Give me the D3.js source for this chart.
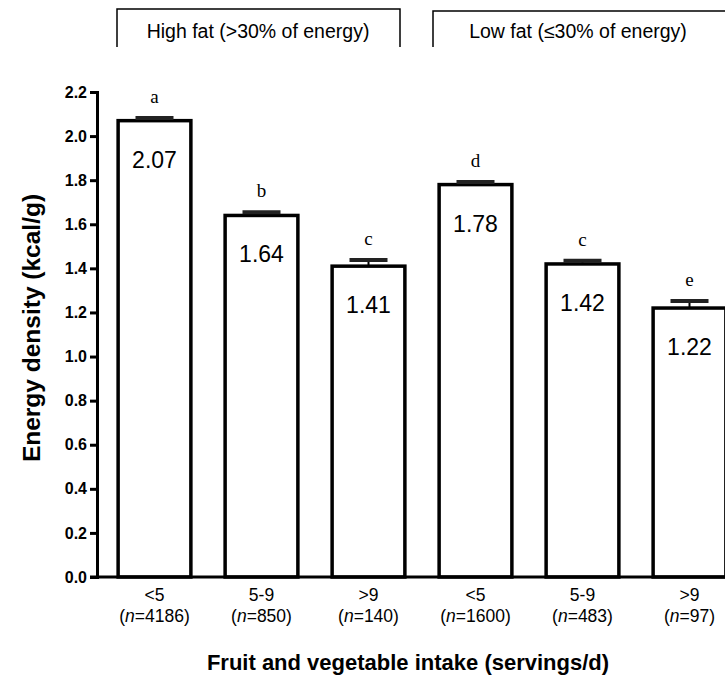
<!DOCTYPE html>
<html><head><meta charset="utf-8">
<script src="https://cdn.jsdelivr.net/npm/d3@7"></script>
<style>body{margin:0;background:#fff}svg{display:block}</style>
</head><body>
<script>
const categories = ["<5", "5-9", ">9", "<5", "5-9", ">9"];
const nLabels = ["4186", "850", "140", "1600", "483", "97"];
const values = [2.07, 1.64, 1.41, 1.78, 1.42, 1.22];
const errors = [0.012, 0.015, 0.028, 0.012, 0.014, 0.032];
const letters = ["a", "b", "c", "d", "c", "e"];
const groups = ["High fat (>30% of energy)", "Low fat (\u226430% of energy)"];
const yTicks = [0, 0.2, 0.4, 0.6, 0.8, 1.0, 1.2, 1.4, 1.6, 1.8, 2.0, 2.2];

const W = 725, H = 680;
const svg = d3.select("body").append("svg").attr("width", W).attr("height", H);
const idx = d3.range(values.length);
const x = d3.scaleBand().domain(idx).range([101, 743]).paddingInner(0.32).paddingOuter(0.16);
const y = d3.scaleLinear().domain([0, 2.2]).range([577, 92]);
const font = "'Liberation Sans', Arial, sans-serif";

// y axis
const yAxis = svg.append("g").attr("transform", "translate(97,0)")
  .call(d3.axisLeft(y).tickValues(yTicks).tickFormat(d3.format(".1f")).tickSize(7).tickSizeOuter(7));
yAxis.select(".domain").attr("stroke", "#000").attr("stroke-width", 3);
yAxis.selectAll(".tick line").attr("stroke", "#000").attr("stroke-width", 3);
yAxis.selectAll(".tick text").attr("font-family", font).attr("font-weight", "bold")
  .attr("font-size", 16).attr("fill", "#000").attr("x", -10);

// bars
const bars = svg.append("g");
bars.selectAll("rect").data(idx).join("rect")
  .attr("x", i => x(i)).attr("y", i => y(values[i]))
  .attr("width", x.bandwidth()).attr("height", i => y(0) - y(values[i]))
  .attr("fill", "#fff").attr("stroke", "#000").attr("stroke-width", 3.5);

// error bars
const eb = svg.append("g");
idx.forEach(i => {
  const cx = x(i) + x.bandwidth() / 2;
  eb.append("line").attr("x1", cx).attr("x2", cx)
    .attr("y1", y(values[i])).attr("y2", y(values[i] + errors[i]))
    .attr("stroke", "#000").attr("stroke-width", 2);
  eb.append("line").attr("x1", cx - 19).attr("x2", cx + 19)
    .attr("y1", y(values[i] + errors[i])).attr("y2", y(values[i] + errors[i]))
    .attr("stroke", "#222").attr("stroke-width", 4);
});

// x axis line
svg.append("line").attr("x1", 90).attr("x2", 725).attr("y1", 577).attr("y2", 577)
  .attr("stroke", "#000").attr("stroke-width", 3);

// value labels
svg.append("g").selectAll("text").data(idx).join("text")
  .attr("x", i => x(i) + x.bandwidth() / 2).attr("y", i => y(values[i]) + 47)
  .attr("text-anchor", "middle").attr("font-family", font).attr("font-size", 23)
  .text(i => values[i].toFixed(2));

// letters
svg.append("g").selectAll("text").data(idx).join("text")
  .attr("x", i => x(i) + x.bandwidth() / 2).attr("y", i => y(values[i] + errors[i]) - 15)
  .attr("text-anchor", "middle").attr("font-family", "'Liberation Serif', 'Times New Roman', serif")
  .attr("font-size", 19).text(i => letters[i]);

// x tick labels
const xl = svg.append("g").selectAll("text").data(idx).join("text")
  .attr("text-anchor", "middle").attr("font-family", font).attr("font-size", 17.5);
xl.append("tspan").attr("x", i => x(i) + x.bandwidth() / 2).attr("y", 601).text(i => categories[i]);
xl.append("tspan").attr("x", i => x(i) + x.bandwidth() / 2).attr("y", 622)
  .each(function (i) {
    const t = d3.select(this);
    t.append("tspan").text("(");
    t.append("tspan").attr("font-style", "italic").text("n");
    t.append("tspan").text("=" + nLabels[i] + ")");
  });

// axis titles
svg.append("text").attr("x", 408).attr("y", 670).attr("text-anchor", "middle")
  .attr("font-family", font).attr("font-weight", "bold").attr("font-size", 22)
  .text("Fruit and vegetable intake (servings/d)");
svg.append("text").attr("transform", "translate(40,328) rotate(-90)").attr("text-anchor", "middle")
  .attr("font-family", font).attr("font-weight", "bold").attr("font-size", 24.5)
  .text("Energy density (kcal/g)");

// group header boxes
const boxes = [[117, 400, 9], [433, 740, 11]];
boxes.forEach((b, k) => {
  svg.append("path").attr("d", `M${b[0]},47V${b[2]}H${b[1]}V47`)
    .attr("fill", "none").attr("stroke", "#000").attr("stroke-width", 1.5);
  svg.append("text").attr("x", k === 0 ? 258 : 578).attr("y", 38).attr("text-anchor", "middle")
    .attr("font-family", font).attr("font-size", 19.5).text(groups[k]);
});
</script>
</body></html>
